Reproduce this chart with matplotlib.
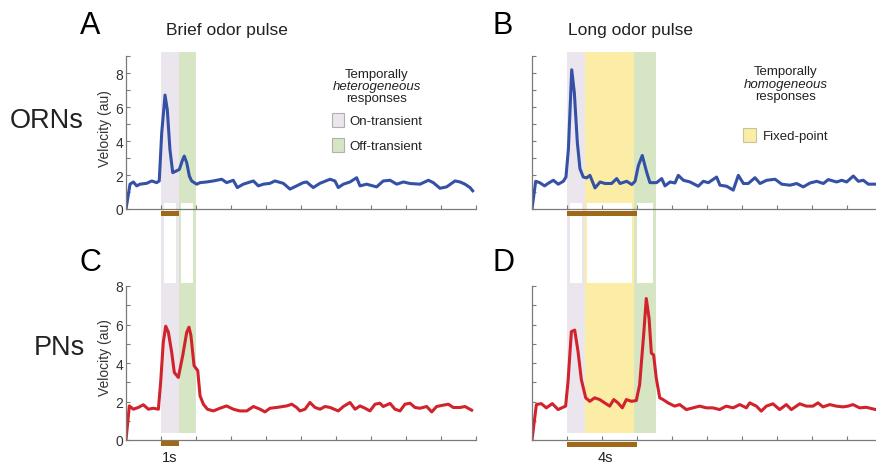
import matplotlib
matplotlib.use("Agg")
import matplotlib.pyplot as plt
from matplotlib.patches import Rectangle
from matplotlib import transforms

plt.rcParams['font.family'] = ['Liberation Sans', 'DejaVu Sans']

# ---------------- data ----------------
# Panel A: ORNs, brief pulse
tA = [0, 0.23, 0.42, 0.61, 0.8, 1.18, 1.47, 1.75, 1.9, 2.04, 2.23, 2.36, 2.51, 2.67, 2.86, 3.05,
      3.24, 3.33, 3.47, 3.62, 3.75, 4.04, 4.23, 4.61, 4.99, 5.47, 5.75, 6.13, 6.36, 6.70, 7.28,
      7.56, 7.85, 8.23, 8.51, 8.99, 9.37, 9.75, 10.13, 10.32, 10.70, 11.08, 11.66, 11.94, 12.13,
      12.42, 12.80, 13.18, 13.37, 13.75, 14.32, 14.70, 15.09, 15.47, 15.85, 16.23, 16.80, 17.28,
      17.56, 17.94, 18.32, 18.80, 19.09, 19.37, 19.66, 19.81]
vA = [0, 1.46, 1.59, 1.36, 1.46, 1.51, 1.65, 1.55, 1.65, 4.47, 6.70, 5.83, 3.50, 2.14, 2.23, 2.33,
      2.91, 3.11, 2.72, 1.94, 1.65, 1.46, 1.55, 1.59, 1.65, 1.75, 1.55, 1.69, 1.26, 1.46, 1.65,
      1.36, 1.46, 1.51, 1.65, 1.51, 1.17, 1.36, 1.55, 1.59, 1.26, 1.51, 1.75, 1.65, 1.26,
      1.46, 1.59, 1.84, 1.36, 1.46, 1.30, 1.65, 1.69, 1.46, 1.59, 1.50, 1.46, 1.69,
      1.55, 1.22, 1.30, 1.65, 1.59, 1.46, 1.26, 1.07]

# Panel B: ORNs, long pulse
tB = [0, 0.21, 0.44, 0.72, 0.91, 1.22, 1.50, 1.79, 1.94, 2.08, 2.27, 2.42, 2.59, 2.74, 2.93, 3.12,
      3.31, 3.60, 3.89, 4.17, 4.55, 4.84, 5.03, 5.41, 5.70, 5.89, 6.08, 6.30, 6.55, 6.74, 7.12,
      7.41, 7.60, 7.89, 8.17, 8.36, 8.65, 9.03, 9.50, 9.79, 10.08, 10.55, 10.74, 11.12, 11.50,
      11.79, 12.08, 12.36, 12.74, 13.03, 13.41, 13.89, 14.27, 14.74, 15.12, 15.50, 15.89, 16.27,
      16.65, 16.93, 17.41, 17.70, 17.98, 18.36, 18.65, 18.93, 19.22, 19.66, 19.9]
vB = [0, 1.63, 1.55, 1.36, 1.50, 1.69, 1.46, 1.63, 1.88, 3.53, 8.19, 6.83, 3.92, 2.37, 1.88, 1.83,
      1.98, 1.24, 1.59, 1.50, 1.50, 1.79, 1.50, 1.63, 1.44, 1.63, 2.56, 3.15, 2.17, 1.55, 1.55,
      1.79, 1.36, 1.59, 1.53, 1.98, 1.69, 1.59, 1.34, 1.63, 1.55, 1.88, 1.40, 1.34, 1.11,
      1.98, 1.50, 1.50, 1.84, 1.50, 1.69, 1.75, 1.46, 1.40, 1.50, 1.30, 1.53, 1.63,
      1.50, 1.73, 1.59, 1.69, 1.59, 1.94, 1.63, 1.69, 1.46, 1.46, 1.45]

# Panel C: PNs, brief pulse
tC = [0, 0.19, 0.42, 0.70, 0.99, 1.28, 1.56, 1.85, 1.98, 2.13, 2.27, 2.42, 2.61, 2.76, 2.99, 3.24,
      3.47, 3.60, 3.71, 3.89, 4.10, 4.23, 4.42, 4.65, 4.99, 5.37, 5.75, 6.13, 6.51, 6.90, 7.28,
      7.66, 7.94, 8.23, 8.61, 9.18, 9.47, 9.75, 9.94, 10.23, 10.51, 10.80, 11.09, 11.37, 11.66,
      12.13, 12.42, 12.80, 13.09, 13.37, 13.66, 13.94, 14.23, 14.51, 14.70, 15.09, 15.37, 15.66,
      15.94, 16.23, 16.51, 16.80, 17.18, 17.47, 17.75, 18.13, 18.42, 18.70, 19.09, 19.37, 19.75]
vC = [0, 1.77, 1.60, 1.69, 1.83, 1.60, 1.65, 1.60, 2.99, 5.08, 5.91, 5.60, 4.56, 3.51, 3.25, 4.38,
      5.60, 5.86, 5.43, 3.86, 3.60, 2.30, 1.86, 1.60, 1.51, 1.65, 1.77, 1.60, 1.51, 1.51, 1.74,
      1.60, 1.46, 1.65, 1.69, 1.77, 1.86, 1.69, 1.51, 1.60, 1.95, 1.69, 1.60, 1.74, 1.69,
      1.51, 1.74, 1.95, 1.60, 1.77, 1.65, 1.51, 1.86, 1.91, 1.74, 1.90, 1.60, 1.51,
      1.86, 1.91, 1.69, 1.65, 1.74, 1.46, 1.74, 1.81, 1.86, 1.69, 1.69, 1.74, 1.55]

# Panel D: PNs, long pulse
tD = [0, 0.25, 0.53, 0.82, 1.16, 1.49, 1.77, 1.92, 2.06, 2.25, 2.44, 2.63, 2.82, 3.07, 3.30, 3.58,
      3.87, 4.15, 4.44, 4.67, 4.91, 5.16, 5.39, 5.68, 5.96, 6.15, 6.38, 6.53, 6.69, 6.82, 6.95,
      7.10, 7.30, 7.49, 7.77, 8.15, 8.44, 8.82, 9.20, 9.58, 9.96, 10.34, 10.72, 11.10, 11.49,
      11.87, 12.25, 12.44, 12.82, 13.10, 13.39, 13.77, 14.15, 14.53, 14.82, 15.30, 15.68, 16.06,
      16.34, 16.63, 17.01, 17.39, 17.77, 18.06, 18.34, 18.72, 19.10, 19.64, 19.9]
vD = [0, 1.84, 1.89, 1.67, 1.89, 1.58, 1.70, 1.76, 3.05, 5.63, 5.71, 4.60, 3.13, 2.19, 2.01, 2.19,
      2.10, 1.93, 1.76, 2.10, 1.93, 1.67, 2.10, 2.01, 2.05, 2.87, 5.46, 7.35, 6.32, 4.51, 4.42,
      3.22, 2.19, 2.10, 1.93, 1.76, 1.84, 1.58, 1.67, 1.76, 1.67, 1.67, 1.58, 1.76, 1.67,
      1.84, 1.67, 1.93, 1.76, 1.50, 1.76, 1.88, 1.58, 1.84, 1.58, 1.88, 1.76, 1.76,
      1.93, 1.72, 1.84, 1.76, 1.72, 1.76, 1.84, 1.67, 1.70, 1.58, 1.58]

# response epochs (s)
brief_bands = [(2.0, 3.0, 'on'), (3.0, 4.0, 'off')]
long_bands = [(2.0, 3.0, 'on'), (3.0, 5.85, 'fixed'), (5.85, 7.07, 'off')]
brief_pulse = (2.0, 3.0)
long_pulse = (2.0, 6.0)

band_colors = {'on': '#ebe5ee', 'off': '#d6e6c4', 'fixed': '#fbeca6'}
BLUE = '#3551a6'
RED = '#d1232c'
BROWN = '#a0691a'
AXC = '#7a7a7a'

W, H = 876, 464
fig = plt.figure(figsize=(W / 100, H / 100), dpi=100)


def fy(ypx):
    return 1 - ypx / H


def make_ax(left_px, bottom_px, top_px, ymax, labels):
    ax = fig.add_axes([left_px / W, fy(bottom_px), 350 / W, (bottom_px - top_px) / H])
    ax.set_facecolor('none')
    ax.set_xlim(0, 20)
    ax.set_ylim(0, ymax)
    for s in ['top', 'right']:
        ax.spines[s].set_visible(False)
    for s in ['left', 'bottom']:
        ax.spines[s].set_color(AXC)
        ax.spines[s].set_linewidth(0.9)
    ax.set_xticks(range(0, 21, 2))
    ax.set_xticklabels([])
    ax.set_yticks(range(0, int(ymax) + 1))
    if labels:
        ax.set_yticklabels([str(v) if v % 2 == 0 else '' for v in range(0, int(ymax) + 1)])
    else:
        ax.set_yticklabels([])
    ax.tick_params(axis='both', direction='in', color=AXC, length=3, width=0.8,
                   labelsize=10, labelcolor='#333333', pad=2)
    return ax


axA = make_ax(126, 210, 57, 9, True)
axB = make_ax(532, 210, 57, 9, False)
axC = make_ax(126, 441, 287, 8, True)
axD = make_ax(532, 441, 287, 8, False)

axA.plot(tA, vA, color=BLUE, lw=2.2, solid_joinstyle='round')
axB.plot(tB, vB, color=BLUE, lw=2.2, solid_joinstyle='round')
axC.plot(tC, vC, color=RED, lw=2.2, solid_joinstyle='round')
axD.plot(tD, vD, color=RED, lw=2.2, solid_joinstyle='round')

for ax, yc in [(axA, 0.53), (axC, 0.54)]:
    ax.set_ylabel('Velocity (au)', fontsize=10, color='#333333')
    ax.yaxis.set_label_coords(-0.04, yc)

# bands spanning both rows
inset = 0.16
for ax, bands in [(axA, brief_bands), (axB, long_bands)]:
    tr = transforms.blended_transform_factory(ax.transData, fig.transFigure)
    for (x0, x1, kind) in bands:
        c = band_colors[kind]
        fig.add_artist(Rectangle((x0, fy(434)), x1 - x0, (434 - 53) / H, transform=tr,
                                 facecolor=c, edgecolor='none', zorder=-3))
        fig.add_artist(Rectangle((x0 + inset, fy(284)), x1 - x0 - 2 * inset, (284 - 204) / H,
                                 transform=tr, facecolor='white', edgecolor='none', zorder=-2))

# odor pulse bars
for ax, pulse, ypx in [(axA, brief_pulse, 212), (axB, long_pulse, 212),
                       (axC, brief_pulse, 442), (axD, long_pulse, 443)]:
    tr = transforms.blended_transform_factory(ax.transData, fig.transFigure)
    fig.add_artist(Rectangle((pulse[0], fy(ypx + 5)), pulse[1] - pulse[0], 5 / H, transform=tr,
                             facecolor=BROWN, edgecolor='none', zorder=5))

# texts
def t(x, y, s, **kw):
    fig.text(x / W, fy(y), s, ha=kw.pop('ha', 'center'), va=kw.pop('va', 'center'), **kw)

t(90, 26, 'A', fontsize=22)
t(503, 26, 'B', fontsize=22)
t(90, 263, 'C', fontsize=22)
t(503, 263, 'D', fontsize=22)
t(227, 30, 'Brief odor pulse', fontsize=12.5, color='#222222')
t(631, 30, 'Long odor pulse', fontsize=12.5, color='#222222')
t(47, 121, 'ORNs', fontsize=19.5, color='#222222')
t(59, 348, 'PNs', fontsize=19.5, color='#222222')
t(170, 458, '1s', fontsize=10.5, color='#222222')
t(605, 458, '4s', fontsize=10.5, color='#222222')

# legend A
t(377, 75, 'Temporally', fontsize=9.5, color='#222222')
t(377, 87, 'heterogeneous', fontsize=9.5, style='italic', color='#222222')
t(377, 99, 'responses', fontsize=9.5, color='#222222')
for ypx, kind, lab in [(121, 'on', 'On-transient'), (146, 'off', 'Off-transient')]:
    fig.add_artist(Rectangle((332 / W, fy(ypx + 7)), 12 / W, 14 / H, transform=fig.transFigure,
                             facecolor=band_colors[kind], edgecolor='#b0b0b0', lw=0.8))
    t(349, ypx + 1, lab, fontsize=9.5, ha='left', color='#222222')

# legend B
t(786, 72, 'Temporally', fontsize=9.5, color='#222222')
t(786, 85, 'homogeneous', fontsize=9.5, style='italic', color='#222222')
t(786, 97, 'responses', fontsize=9.5, color='#222222')
fig.add_artist(Rectangle((743 / W, fy(143)), 13 / W, 14 / H, transform=fig.transFigure,
                         facecolor=band_colors['fixed'], edgecolor='#c9c39a', lw=0.8))
t(763, 137, 'Fixed-point', fontsize=9.5, ha='left', color='#222222')

fig.savefig('out.png', dpi=100)
